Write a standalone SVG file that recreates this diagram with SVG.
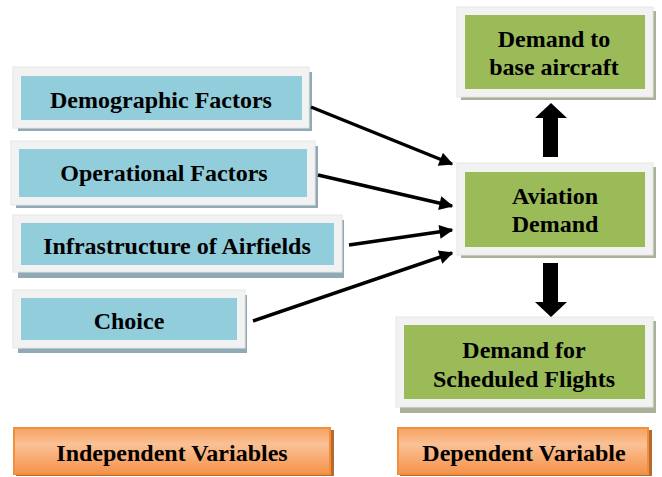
<svg xmlns="http://www.w3.org/2000/svg" width="662" height="477" viewBox="0 0 662 477">
<style>
.frame{fill:#F2F2F2;stroke:#E6E6E6;stroke-width:1}
.bshadow{fill:#8FA9B5}
.gshadow{fill:#A9B199}
.blue{fill:#92CDDC}
.green{fill:#9BBB59}
.orange{fill:url(#og);stroke:#F0903F;stroke-width:2}
.oshadow{fill:#B86A2E}
.line{stroke:#000;stroke-width:3.5;fill:none;marker-end:url(#ah)}
</style>
<defs>
<linearGradient id="og" x1="0" y1="0" x2="0" y2="1">
<stop offset="0" stop-color="#F7A15F"/>
<stop offset="0.35" stop-color="#FAC196"/>
<stop offset="1" stop-color="#F5924A"/>
</linearGradient>
<marker id="ah" viewBox="0 0 10 10" refX="9" refY="5" markerWidth="4.5" markerHeight="4" orient="auto" markerUnits="strokeWidth">
<path d="M0,0 L10,5 L0,10 z" fill="#000"/>
</marker>
</defs>
<g id="demographic">
<rect class="bshadow" x="18" y="72" width="294" height="59"/>
<rect class="frame" x="13" y="67" width="296" height="61"/>
<rect class="blue" x="21" y="76" width="281" height="44"/>
<text x="161" y="108" font-family="Liberation Serif" style="font-family:'Liberation Serif','Times New Roman',serif;font-size:24px;font-weight:bold;text-anchor:middle">Demographic Factors</text>
</g>
<g id="operational">
<rect class="bshadow" x="16" y="146" width="302" height="62"/>
<rect class="frame" x="11" y="141" width="304" height="64"/>
<rect class="blue" x="19" y="149" width="288" height="48"/>
<text x="164" y="181" font-family="Liberation Serif" style="font-family:'Liberation Serif','Times New Roman',serif;font-size:24px;font-weight:bold;text-anchor:middle">Operational Factors</text>
</g>
<g id="infrastructure">
<rect class="bshadow" x="18" y="220" width="326" height="58"/>
<rect class="frame" x="13" y="215" width="329" height="57"/>
<rect class="blue" x="21" y="223" width="313" height="42"/>
<text x="177" y="254" font-family="Liberation Serif" style="font-family:'Liberation Serif','Times New Roman',serif;font-size:24px;font-weight:bold;text-anchor:middle">Infrastructure of Airfields</text>
</g>
<g id="choice">
<rect class="bshadow" x="18" y="295" width="229" height="58"/>
<rect class="frame" x="13" y="290" width="232" height="58"/>
<rect class="blue" x="21" y="298" width="216" height="42"/>
<text x="129" y="329" font-family="Liberation Serif" style="font-family:'Liberation Serif','Times New Roman',serif;font-size:24px;font-weight:bold;text-anchor:middle">Choice</text>
</g>
<g id="base-aircraft">
<rect class="gshadow" x="461" y="11" width="195" height="89"/>
<rect class="frame" x="457" y="7" width="196" height="90"/>
<rect class="green" x="465" y="15" width="180" height="74"/>
<text x="554" y="47" font-family="Liberation Serif" style="font-family:'Liberation Serif','Times New Roman',serif;font-size:24px;font-weight:bold;text-anchor:middle">Demand to</text>
<text x="554" y="75" font-family="Liberation Serif" style="font-family:'Liberation Serif','Times New Roman',serif;font-size:24px;font-weight:bold;text-anchor:middle">base aircraft</text>
</g>
<g id="aviation-demand">
<rect class="gshadow" x="461" y="167" width="195" height="91"/>
<rect class="frame" x="457" y="163" width="196" height="92"/>
<rect class="green" x="465" y="172" width="180" height="75"/>
<text x="555" y="204" font-family="Liberation Serif" style="font-family:'Liberation Serif','Times New Roman',serif;font-size:24px;font-weight:bold;text-anchor:middle">Aviation</text>
<text x="555" y="232" font-family="Liberation Serif" style="font-family:'Liberation Serif','Times New Roman',serif;font-size:24px;font-weight:bold;text-anchor:middle">Demand</text>
</g>
<g id="scheduled-flights">
<rect class="gshadow" x="400" y="321" width="256" height="92"/>
<rect class="frame" x="396" y="317" width="257" height="90"/>
<rect class="green" x="404" y="325" width="241" height="74"/>
<text x="524" y="358" font-family="Liberation Serif" style="font-family:'Liberation Serif','Times New Roman',serif;font-size:24px;font-weight:bold;text-anchor:middle">Demand for</text>
<text x="524" y="387" font-family="Liberation Serif" style="font-family:'Liberation Serif','Times New Roman',serif;font-size:24px;font-weight:bold;text-anchor:middle">Scheduled Flights</text>
</g>
<g id="independent-variables">
<rect class="oshadow" x="16" y="430" width="318" height="46"/>
<rect class="orange" x="14" y="428" width="316" height="46"/>
<text x="172" y="461" font-family="Liberation Serif" style="font-family:'Liberation Serif','Times New Roman',serif;font-size:24px;font-weight:bold;text-anchor:middle">Independent Variables</text>
</g>
<g id="dependent-variable">
<rect class="oshadow" x="400" y="430" width="252" height="46"/>
<rect class="orange" x="398" y="428" width="250" height="46"/>
<text x="524" y="461" font-family="Liberation Serif" style="font-family:'Liberation Serif','Times New Roman',serif;font-size:24px;font-weight:bold;text-anchor:middle">Dependent Variable</text>
</g>
<g id="connectors">
<line class="line" x1="311" y1="107" x2="452" y2="164"/>
<line class="line" x1="318" y1="175" x2="452" y2="206"/>
<line class="line" x1="349" y1="245" x2="452" y2="230"/>
<line class="line" x1="253" y1="321" x2="452" y2="253"/>
<path d="M543,157 L558,157 L558,118 L567,118 L551,103 L535,118 L543,118 Z" fill="#000"/>
<path d="M543,263 L558,263 L558,302 L567,302 L551,317 L535,302 L543,302 Z" fill="#000"/>
</g>
</svg>
